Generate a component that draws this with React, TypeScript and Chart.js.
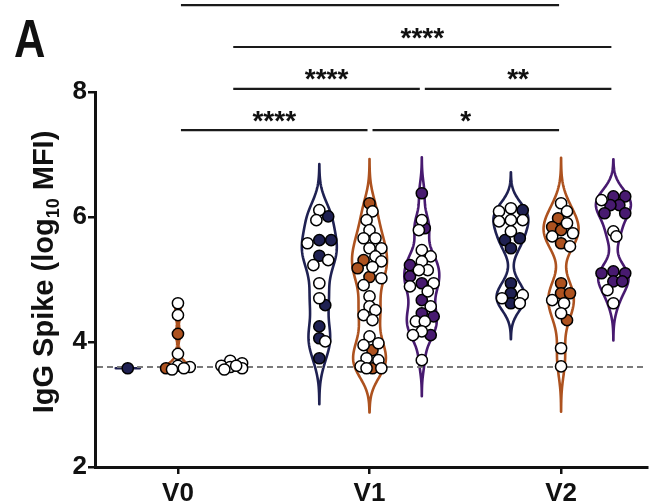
import React, { useEffect, useRef } from 'react';
import { Chart, registerables } from 'chart.js';

Chart.register(...registerables);

// ---------------- DATA ----------------
const categories = ['V0', 'V1', 'V2'];
const yTicks = [2, 4, 6, 8];
const baselineValue = 3.6;

// log10 MFI values; "Filled" = coloured dots, "Open" = white dots
const v0NavyFilled = [3.58];
const v0NavyOpen: number[] = [];
const v0OrangeFilled = [4.13, 3.58];
const v0OrangeOpen = [4.62, 4.43, 3.81, 3.62, 3.6, 3.58, 3.56];
const v0PurpleFilled: number[] = [];
const v0PurpleOpen = [3.7, 3.66, 3.62, 3.6, 3.58, 3.62, 3.56];

const v1NavyFilled = [6.01, 5.63, 5.63, 5.38, 4.59, 4.25, 4.06, 3.74];
const v1NavyOpen = [6.11, 5.95, 5.58, 5.31, 5.23, 4.94, 4.7, 4.01];
const v1OrangeFilled = [6.22, 5.31, 5.18, 5.04, 3.87, 3.58];
const v1OrangeOpen = [6.09, 5.95, 5.79, 5.66, 5.66, 5.5, 5.5, 5.37, 5.29, 5.2, 5.02, 4.91, 4.73, 4.57, 4.51, 4.43, 4.35, 4.09, 3.98, 3.95, 3.74, 3.71, 3.61, 3.58, 3.58];
const v1PurpleFilled = [6.38, 5.82, 5.23, 5.05, 4.94, 4.67, 4.46, 4.41, 4.11];
const v1PurpleOpen = [5.95, 5.79, 5.47, 5.37, 5.29, 5.15, 5.15, 4.94, 4.89, 4.81, 4.57, 4.33, 4.33, 4.17, 4.11, 3.71];

const v2NavyFilled = [6.11, 5.66, 5.63, 5.5, 4.94, 4.78, 4.62];
const v2NavyOpen = [6.14, 6.09, 5.95, 5.93, 5.95, 5.77, 4.75, 4.7, 4.62];
const v2OrangeFilled = [5.98, 5.84, 5.79, 5.58, 4.94, 4.78, 4.78, 4.35];
const v2OrangeOpen = [6.22, 6.09, 5.9, 5.74, 5.69, 5.53, 4.67, 4.62, 4.46, 3.9, 3.61];
const v2PurpleFilled = [6.33, 6.33, 6.19, 6.19, 6.06, 6.06, 5.13, 5.1, 5.1, 4.97, 4.97];
const v2PurpleOpen = [6.27, 5.77, 5.69, 4.83, 4.62];

// significance comparisons: [category, group] pairs
const sigFrom = [[0, 1], [0, 2], [0, 2], [1, 2], [0, 1], [1, 1]];
const sigTo = [[2, 1], [2, 2], [1, 2], [2, 2], [1, 1], [2, 1]];
const sigLevels = [9.39, 8.72, 8.05, 8.05, 7.39, 7.39];
const sigLabels = ['', '****', '****', '**', '****', '*'];

// ---------------- STYLE / LAYOUT ----------------
const FONT = '"Liberation Sans", Arial, Helvetica, sans-serif';
const groupColors = ['#1f2152', '#ad521f', '#481a70'];
const groupOffsets = [-0.262, 0, 0.273];
const W = 654;
const H = 503;
const PLOT_LEFT = 95;
const PLOT_TOP = 92;
const PLOT_BOTTOM = 467;
const X_MIN = -0.433;
const X_MAX = 2.448;
const Y_MIN = 2;
const Y_MAX = 8;
const PX_X = (W - PLOT_LEFT) / (X_MAX - X_MIN);
const PX_Y = (PLOT_BOTTOM - PLOT_TOP) / (Y_MAX - Y_MIN);
const POINT_R = 5.6;

const filledByCat = [
  [v0NavyFilled, v0OrangeFilled, v0PurpleFilled],
  [v1NavyFilled, v1OrangeFilled, v1PurpleFilled],
  [v2NavyFilled, v2OrangeFilled, v2PurpleFilled],
];
const openByCat = [
  [v0NavyOpen, v0OrangeOpen, v0PurpleOpen],
  [v1NavyOpen, v1OrangeOpen, v1PurpleOpen],
  [v2NavyOpen, v2OrangeOpen, v2PurpleOpen],
];

function kde(vals: number[], h: number, y: number) {
  let s = 0;
  for (const v of vals) s += Math.exp(-0.5 * ((y - v) / h) ** 2);
  return s;
}
function quantile(sorted: number[], q: number) {
  const p = (sorted.length - 1) * q;
  const i = Math.floor(p);
  const f = p - i;
  return sorted[i] + (sorted[Math.min(i + 1, sorted.length - 1)] - sorted[i]) * f;
}
function bandwidth(vals: number[]) {
  const n = vals.length;
  if (n < 2) return 0.03;
  const mean = vals.reduce((a, b) => a + b, 0) / n;
  const sd = Math.sqrt(vals.reduce((a, b) => a + (b - mean) ** 2, 0) / (n - 1));
  const s = [...vals].sort((a, b) => a - b);
  const iqr = quantile(s, 0.75) - quantile(s, 0.25);
  let m = Math.min(sd, iqr / 1.34);
  if (!(m > 0)) m = sd;
  if (!(m > 0)) return 0.03;
  return 0.9 * m * Math.pow(n, -0.2);
}

type Violin = {
  cat: number; g: number; vals: number[]; flags: boolean[]; h: number;
  lo: number; hi: number; maxD: number; halfW: number; xs: number[];
};

function buildViolins(): Violin[] {
  const out: Violin[] = [];
  for (let c = 0; c < categories.length; c++) {
    for (let g = 0; g < 3; g++) {
      const f = filledByCat[c][g];
      const o = openByCat[c][g];
      const vals = [...f, ...o];
      const flags = [...f.map(() => true), ...o.map(() => false)];
      const trunc = c === 0;
      const h = bandwidth(vals) * (trunc ? 0.35 : 0.62);
      const mn = Math.min(...vals);
      const mx = Math.max(...vals);
      const lo = trunc ? mn : mn - 3 * h;
      const hi = trunc ? mx : mx + 3 * h;
      let maxD = 0;
      for (let i = 0; i <= 160; i++) maxD = Math.max(maxD, kde(vals, h, lo + ((hi - lo) * i) / 160));
      const halfW = c === 0 ? 12 : 17.5;
      const v: Violin = { cat: c, g, vals, flags, h, lo, hi, maxD, halfW, xs: [] };
      // beeswarm offsets (px) -> data units
      const order = vals.map((_, i) => i).sort((a, b) => vals[b] - vals[a]);
      const placed: { x: number; y: number }[] = [];
      const offs = new Array(vals.length).fill(0);
      for (const i of order) {
        const yp = vals[i] * PX_Y;
        const wHere = (kde(vals, h, vals[i]) / maxD) * halfW;
        const lim = c === 0 ? 12 : Math.min(14, Math.max(wHere - 2, 2));
        const cands = [0];
        for (let k = 1; k <= 10; k++) cands.push(k * 3, -k * 3);
        let best = 0;
        let bestScore = -Infinity;
        for (const cnd of cands) {
          if (Math.abs(cnd) > lim + 0.01) continue;
          let minD = Infinity;
          for (const p of placed) minD = Math.min(minD, Math.hypot(p.x - cnd, p.y - yp));
          if (minD >= 10) { best = cnd; bestScore = Infinity; break; }
          if (minD > bestScore + 0.5) { bestScore = minD; best = cnd; }
        }
        placed.push({ x: best, y: yp });
        offs[i] = best;
      }
      v.xs = offs.map((o2) => c + groupOffsets[g] + o2 / PX_X);
      out.push(v);
    }
  }
  return out;
}

const violins = buildViolins();

const violinPlugin = {
  id: 'violinPlugin',
  beforeDatasetsDraw(chart: any) {
    const { ctx, chartArea } = chart;
    const xs = chart.scales.x;
    const ys = chart.scales.y;
    for (const vl of violins) {
      const cx = xs.getPixelForValue(vl.cat + groupOffsets[vl.g]);
      const N = 160;
      const pts: { py: number; w: number }[] = [];
      for (let i = 0; i <= N; i++) {
        const v = vl.lo + ((vl.hi - vl.lo) * i) / N;
        pts.push({ py: ys.getPixelForValue(v), w: (kde(vl.vals, vl.h, v) / vl.maxD) * vl.halfW });
      }
      ctx.save();
      ctx.beginPath();
      pts.forEach((p, i) => (i ? ctx.lineTo(cx + p.w, p.py) : ctx.moveTo(cx + p.w, p.py)));
      for (let i = pts.length - 1; i >= 0; i--) ctx.lineTo(cx - pts[i].w, pts[i].py);
      ctx.closePath();
      ctx.strokeStyle = groupColors[vl.g];
      ctx.lineWidth = 2.6;
      ctx.lineJoin = 'round';
      ctx.stroke();
      ctx.restore();
    }
    // dashed baseline
    const by = ys.getPixelForValue(baselineValue);
    ctx.save();
    ctx.beginPath();
    ctx.setLineDash([6, 4]);
    ctx.strokeStyle = '#7a7a7a';
    ctx.lineWidth = 1.8;
    ctx.moveTo(chartArea.left + 2, by);
    ctx.lineTo(chartArea.right, by);
    ctx.stroke();
    ctx.restore();
  },
  afterDraw(chart: any) {
    const { ctx } = chart;
    const xs = chart.scales.x;
    const ys = chart.scales.y;
    // significance bars
    ctx.save();
    for (let i = 0; i < sigLevels.length; i++) {
      const x1 = xs.getPixelForValue(sigFrom[i][0] + groupOffsets[sigFrom[i][1]]) + 3;
      const x2 = xs.getPixelForValue(sigTo[i][0] + groupOffsets[sigTo[i][1]]) - 2;
      const y = ys.getPixelForValue(sigLevels[i]);
      ctx.beginPath();
      ctx.strokeStyle = '#1a1a1a';
      ctx.lineWidth = 2.2;
      ctx.moveTo(x1, y);
      ctx.lineTo(x2, y);
      ctx.stroke();
      if (sigLabels[i]) {
        ctx.font = `bold 28px ${FONT}`;
        ctx.fillStyle = '#111';
        ctx.textAlign = 'center';
        ctx.textBaseline = 'alphabetic';
        const m = ctx.measureText(sigLabels[i]);
        const target = y - 14;
        const base = target - (m.actualBoundingBoxDescent - m.actualBoundingBoxAscent) / 2;
        ctx.fillText(sigLabels[i], (x1 + x2) / 2, base);
      }
    }
    ctx.restore();

    // y-axis title with subscript
    ctx.save();
    ctx.translate(53, 272);
    ctx.rotate(-Math.PI / 2);
    ctx.fillStyle = '#111';
    ctx.textBaseline = 'alphabetic';
    ctx.textAlign = 'left';
    const mainFont = `bold 29px ${FONT}`;
    const subFont = `bold 18px ${FONT}`;
    const p1 = 'IgG Spike (log';
    const p2 = '10';
    const p3 = ' MFI)';
    ctx.font = mainFont;
    const w1 = ctx.measureText(p1).width;
    const w3 = ctx.measureText(p3).width;
    ctx.font = subFont;
    const w2 = ctx.measureText(p2).width;
    const total = w1 + w2 + w3;
    let x = -total / 2;
    ctx.font = mainFont;
    ctx.fillText(p1, x, 0);
    x += w1;
    ctx.font = subFont;
    ctx.fillText(p2, x, 6);
    x += w2;
    ctx.font = mainFont;
    ctx.fillText(p3, x, 0);
    ctx.restore();

    // panel letter
    ctx.save();
    ctx.fillStyle = '#111';
    ctx.font = `bold 53px ${FONT}`;
    ctx.textBaseline = 'alphabetic';
    ctx.textAlign = 'left';
    ctx.translate(14, 57);
    ctx.scale(0.82, 1);
    ctx.fillText('A', 0, 0);
    ctx.restore();
  },
};

export default function App() {
  const ref = useRef<HTMLCanvasElement | null>(null);
  useEffect(() => {
    if (!ref.current) return;
    const datasets = violins.map((vl) => {
      const idx = vl.vals.map((_, i) => i);
      return {
        type: 'scatter' as const,
        data: idx.map((i) => ({ x: vl.xs[i], y: vl.vals[i] })),
        backgroundColor: idx.map((i) => (vl.flags[i] ? groupColors[vl.g] : '#ffffff')),
        borderColor: '#000000',
        borderWidth: 1.5,
        pointRadius: POINT_R,
        pointHoverRadius: POINT_R,
        showLine: false,
      };
    });
    const axisCommon = {
      grid: { display: true, drawOnChartArea: false, drawTicks: true, tickLength: 7, color: '#111', lineWidth: 2.5 },
      border: { display: true, color: '#111', width: 3 },
    };
    const chart = new Chart(ref.current, {
      type: 'scatter',
      data: { datasets },
      options: {
        animation: false,
        responsive: false,
        maintainAspectRatio: false,
        events: [],
        layout: { padding: { top: PLOT_TOP, left: 0, right: 0, bottom: 0 } },
        plugins: { legend: { display: false }, tooltip: { enabled: false } },
        scales: {
          x: {
            type: 'linear',
            min: X_MIN,
            max: X_MAX,
            ...axisCommon,
            afterBuildTicks: (s: any) => {
              s.ticks = categories.map((_, i) => ({ value: i }));
            },
            afterFit: (s: any) => {
              s.height = H - PLOT_BOTTOM;
            },
            ticks: {
              autoSkip: false,
              maxRotation: 0,
              padding: 4,
              color: '#111',
              font: { family: FONT, size: 26, weight: 'bold' },
              callback: (v: any) => categories[Math.round(Number(v))] ?? '',
            },
          },
          y: {
            type: 'linear',
            min: Y_MIN,
            max: Y_MAX,
            ...axisCommon,
            afterBuildTicks: (s: any) => {
              s.ticks = yTicks.map((v) => ({ value: v }));
            },
            afterFit: (s: any) => {
              s.width = PLOT_LEFT;
            },
            ticks: {
              padding: 1,
              color: '#111',
              font: { family: FONT, size: 26, weight: 'bold' },
            },
          },
        },
      } as any,
      plugins: [violinPlugin],
    });
    return () => chart.destroy();
  }, []);
  return (
    <div style={{ position: 'fixed', left: 0, top: 0, width: W, height: H, background: '#fff' }}>
      <canvas ref={ref} width={W} height={H} style={{ display: 'block', width: W, height: H }} />
    </div>
  );
}
